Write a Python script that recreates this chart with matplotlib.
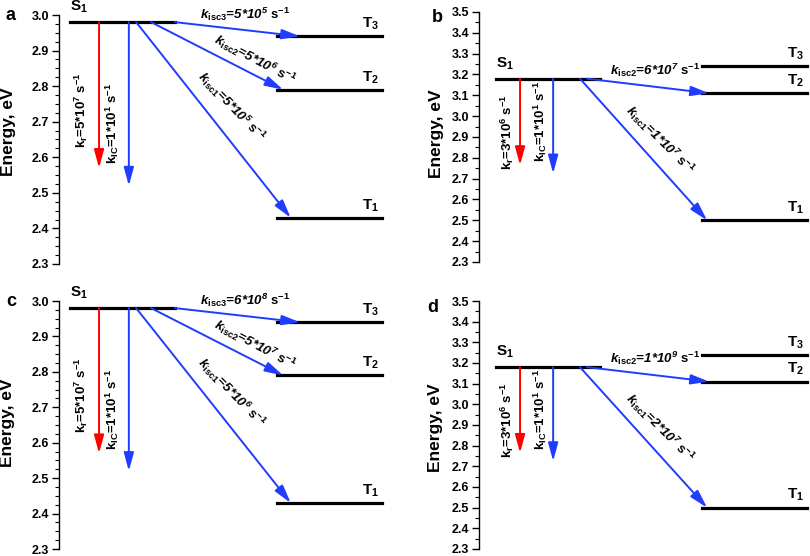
import matplotlib
matplotlib.use("Agg")
import matplotlib.pyplot as plt
from matplotlib.ticker import MultipleLocator, FormatStrFormatter

plt.rcParams['font.family'] = ['Liberation Sans', 'DejaVu Sans']
plt.rcParams['mathtext.fontset'] = 'custom'
plt.rcParams['mathtext.rm'] = 'Liberation Sans:bold'
plt.rcParams['mathtext.it'] = 'Liberation Sans:bold:italic'
plt.rcParams['mathtext.bf'] = 'Liberation Sans:bold'
plt.rcParams['mathtext.sf'] = 'Liberation Sans:bold'
plt.rcParams['mathtext.default'] = 'regular'

# ---------------- data ----------------
panels = ['a', 'b', 'c', 'd']
ylims = {'a': (2.3, 3.0), 'b': (2.3, 3.5), 'c': (2.3, 3.0), 'd': (2.3, 3.5)}
S1 = {'a': 2.98, 'b': 3.18, 'c': 2.98, 'd': 3.18}
T1 = {'a': 2.43, 'b': 2.50, 'c': 2.43, 'd': 2.50}
T2 = {'a': 2.79, 'b': 3.11, 'c': 2.79, 'd': 3.11}
T3 = {'a': 2.94, 'b': 3.24, 'c': 2.94, 'd': 3.24}
kr_end = {'a': 2.57, 'b': 2.765, 'c': 2.57, 'd': 2.765}
kic_end = {'a': 2.52, 'b': 2.725, 'c': 2.52, 'd': 2.725}
kr_rate = {'a': ('5', '7'), 'b': ('3', '6'), 'c': ('5', '7'), 'd': ('3', '6')}
kic_rate = {'a': ('1', '1'), 'b': ('1', '1'), 'c': ('1', '1'), 'd': ('1', '1')}
isc1_rate = {'a': ('5', '5'), 'b': ('1', '7'), 'c': ('5', '6'), 'd': ('2', '7')}
isc2_rate = {'a': ('5', '6'), 'b': ('6', '7'), 'c': ('5', '7'), 'd': ('1', '9')}
isc3_rate = {'a': ('5', '5'), 'c': ('6', '8')}

BLUE = '#1f3cff'
RED = '#ff0000'

W, H = 810, 556
fig = plt.figure(figsize=(W / 100, H / 100), dpi=100)

# axes boxes in pixels: left, top, right, bottom
boxes = {'a': (59, 15, 390, 264), 'b': (479, 12, 810, 262),
         'c': (59, 301, 390, 549), 'd': (479, 301, 810, 549)}
letter_pos = {'a': (11, 16), 'b': (437, 17), 'c': (11, 302), 'd': (433, 307)}
ylab_pos = {'a': (9, 132), 'b': (436, 134), 'c': (8, 423), 'd': (435, 428)}

# layout (axes-fraction x positions, energy offsets from S1) per panel family
lay_ac = dict(S=(0.033, 0.35), T=(0.658, 0.976), kr=0.121, kic=0.211,
              isc3=(0.35, 0.728), isc2=(0.278, 0.677), isc1=(0.233, 0.70),
              t_isc3=(0.562, 0.022), t_isc2=(0.592, -0.104), t_isc1=(0.52, -0.238),
              t_kr=(0.069, -0.247), t_kic=(0.16, -0.286),
              rot_isc2=-28, rot_isc1=-46, S1lab=0.033)
lay_bd = dict(S=(0.051, 0.366), T=(0.674, 0.991), kr=0.124, kic=0.224,
              isc2=(0.326, 0.695), isc1=(0.305, 0.689),
              t_isc2=(0.532, 0.041), t_isc1=(0.547, -0.295),
              t_kr=(0.085, -0.257), t_kic=(0.184, -0.204),
              rot_isc2=0, rot_isc1=-45, S1lab=0.051)

FS = 9.5


def arrow(ax, x0, y0, x1, y1, color):
    ax.annotate('', xy=(x1, y1), xytext=(x0, y0),
                xycoords=ax.get_yaxis_transform(),
                textcoords=ax.get_yaxis_transform(),
                arrowprops=dict(arrowstyle='-|>,head_length=1.1,head_width=0.3',
                                color=color, lw=1.4, shrinkA=0, shrinkB=0,
                                mutation_scale=10))


def rate_text(m, e, sub, italic):
    if italic:
        return r'k$_{\mathrm{%s}}$=%s*10$^{%s}$ $\mathrm{s^{-1}}$' % (sub, m, e)
    return r'k$_{%s}$=%s*10$^{%s}$ s$^{-1}$' % (sub, m, e)


for p in panels:
    l, t, r, b = boxes[p]
    ax = fig.add_axes([l / W, 1 - b / H, (r - l) / W, (b - t) / H])
    lay = lay_ac if p in ('a', 'c') else lay_bd
    y0, y1 = ylims[p]
    ax.set_ylim(y0, y1)
    ax.set_xlim(0, 1)
    for s in ('top', 'right', 'bottom'):
        ax.spines[s].set_visible(False)
    ax.spines['left'].set_linewidth(1.0)
    ax.set_xticks([])
    ax.yaxis.set_major_locator(MultipleLocator(0.1))
    ax.yaxis.set_minor_locator(MultipleLocator(0.025 if p in ('a', 'c') else 0.05))
    ax.yaxis.set_major_formatter(FormatStrFormatter('%.1f'))
    ax.tick_params(axis='y', which='major', direction='out', length=5, width=1,
                   labelsize=9, pad=2)
    ax.tick_params(axis='y', which='minor', direction='out', length=3, width=0.8)
    for lab in ax.get_yticklabels():
        lab.set_fontweight('bold')
    ax.patch.set_alpha(0)

    # levels
    ax.axhline(S1[p], lay['S'][0], lay['S'][1], color='black', lw=2.3, zorder=2)
    levels = [(T1[p], '1'), (T2[p], '2'), (T3[p], '3')]
    for e, n in levels:
        ax.axhline(e, lay['T'][0], lay['T'][1], color='black', lw=2.3, zorder=2)
        ax.annotate('T$_{%s}$' % n, xy=(lay['T'][1] - 0.008, e),
                    xycoords=ax.get_yaxis_transform(), xytext=(0, 3),
                    textcoords='offset points', ha='right', va='bottom',
                    fontsize=11, fontweight='bold')
    ax.annotate('S$_{1}$', xy=(lay['S1lab'], S1[p]),
                xycoords=ax.get_yaxis_transform(), xytext=(0, 5),
                textcoords='offset points', ha='left', va='bottom',
                fontsize=11, fontweight='bold')

    # vertical arrows
    arrow(ax, lay['kr'], S1[p], lay['kr'], kr_end[p], RED)
    arrow(ax, lay['kic'], S1[p], lay['kic'], kic_end[p], BLUE)
    # ISC arrows
    arrow(ax, lay['isc1'][0], S1[p], lay['isc1'][1], T1[p], BLUE)
    arrow(ax, lay['isc2'][0], S1[p], lay['isc2'][1], T2[p], BLUE)
    if p in isc3_rate:
        arrow(ax, lay['isc3'][0], S1[p], lay['isc3'][1], T3[p], BLUE)

    tr = ax.get_yaxis_transform()
    # rate labels (positions relative to S1)
    ax.text(lay['t_kr'][0], S1[p] + lay['t_kr'][1], rate_text(*kr_rate[p], 'r', False),
            transform=tr, rotation=90, ha='center', va='center',
            fontsize=FS, fontweight='bold')
    ax.text(lay['t_kic'][0], S1[p] + lay['t_kic'][1], rate_text(*kic_rate[p], 'IC', False),
            transform=tr, rotation=90, ha='center', va='center',
            fontsize=FS, fontweight='bold')
    ax.text(lay['t_isc1'][0], S1[p] + lay['t_isc1'][1], rate_text(*isc1_rate[p], 'isc1', True),
            transform=tr, rotation=lay['rot_isc1'], rotation_mode='anchor',
            ha='center', va='center', fontsize=FS, fontweight='bold', fontstyle='italic')
    ax.text(lay['t_isc2'][0], S1[p] + lay['t_isc2'][1], rate_text(*isc2_rate[p], 'isc2', True),
            transform=tr, rotation=lay['rot_isc2'], rotation_mode='anchor',
            ha='center', va='center', fontsize=FS, fontweight='bold', fontstyle='italic')
    if p in isc3_rate:
        ax.text(lay['t_isc3'][0], S1[p] + lay['t_isc3'][1], rate_text(*isc3_rate[p], 'isc3', True),
                transform=tr, ha='center', va='center', fontsize=FS,
                fontweight='bold', fontstyle='italic')

    lx, ly = letter_pos[p]
    fig.text(lx / W, 1 - ly / H, p, ha='center', va='center', fontsize=13, fontweight='bold')
    yx, yy = ylab_pos[p]
    fig.text(yx / W, 1 - yy / H, 'Energy, eV', ha='center', va='center', rotation=90,
             fontsize=12.5, fontweight='bold')

fig.savefig('out.png', dpi=100)
